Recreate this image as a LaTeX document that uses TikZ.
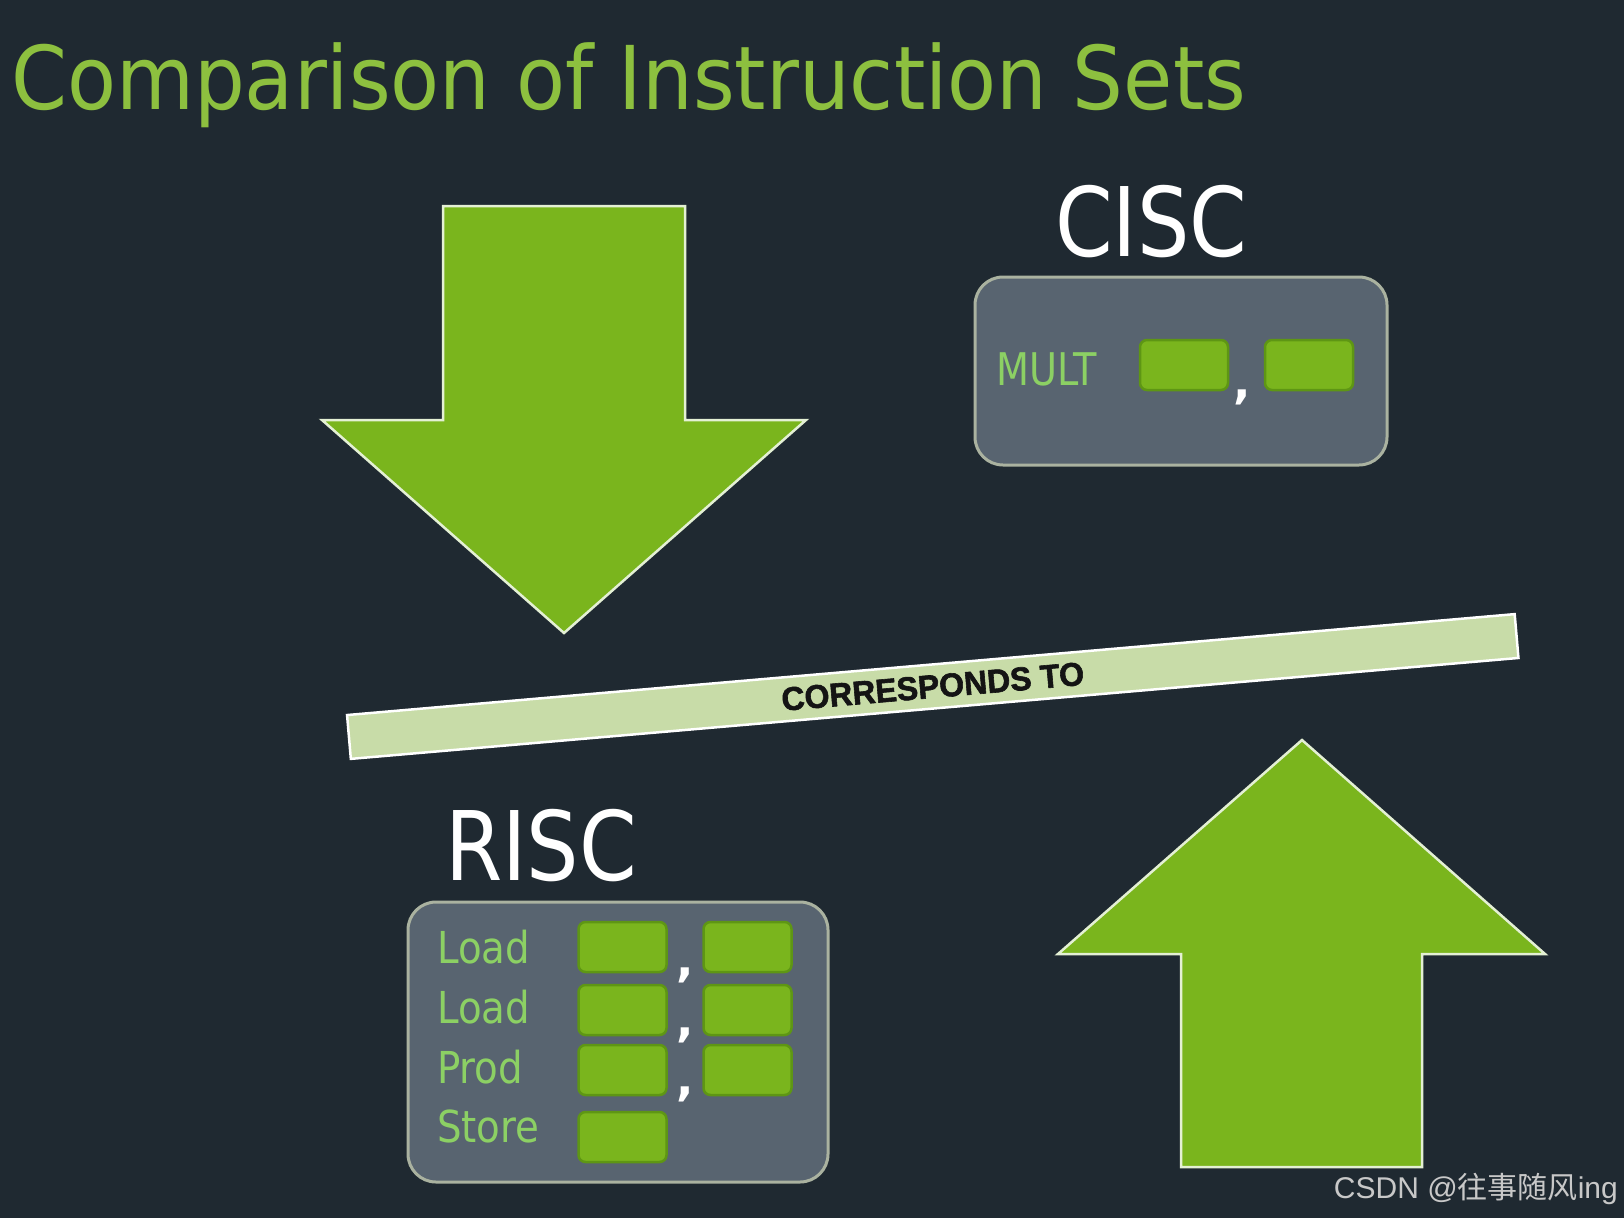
\documentclass[tikz,border=0pt]{standalone}
\usepackage{fontspec}
\setmainfont{DejaVu Sans}
\newfontfamily\barfont[FakeBold=1.8]{Liberation Sans Bold}
\newfontfamily\wmfont{Liberation Sans}
\newfontfamily\cjk{Noto Sans CJK SC}
\definecolor{bg}{HTML}{1F2931}
\definecolor{titlegreen}{HTML}{8DC03F}
\definecolor{arrowgreen}{HTML}{7AB51D}
\definecolor{arrowedge}{HTML}{E4F0D4}
\definecolor{boxfill}{HTML}{586470}
\definecolor{boxedge}{HTML}{AAB2A0}
\definecolor{slotfill}{HTML}{7AB51D}
\definecolor{slotedge}{HTML}{5E9614}
\definecolor{lblgreen}{HTML}{8CD064}
\definecolor{barfill}{HTML}{C8DCA8}
\definecolor{wmgray}{HTML}{C8C8C8}
\tikzset{
  bigarrow/.style={fill=arrowgreen, draw=arrowedge, line width=2.5pt, line join=miter},
  bigbox/.style={rectangle, rounded corners=28pt, fill=boxfill, draw=boxedge, line width=3pt, inner sep=0pt},
  slot/.style={rectangle, rounded corners=7pt, fill=slotfill, draw=slotedge, line width=2.5pt, minimum width=88pt, minimum height=50pt, inner sep=0pt},
  lbl/.style={anchor=base west, inner sep=0pt, text=lblgreen},
  headtxt/.style={anchor=base west, inner sep=0pt, text=white},
  commatxt/.style={anchor=base, inner sep=0pt, text=white, font=\bfseries},
  barbox/.style={rectangle, fill=barfill, draw=white, line width=2.5pt, inner sep=0pt, text={black!92}}
}
\begin{document}
\begin{tikzpicture}[x=1pt, y=-1pt]
\useasboundingbox (0,0) rectangle (1624,1218);
\fill[bg] (0,0) rectangle (1624,1218);

% title
\node[anchor=base west, inner sep=0pt, text=titlegreen] (title) at (11,109)
  {\fontsize{88}{88}\selectfont\scalebox{0.91}[1]{Comparison of Instruction Sets}};

% arrows
\draw[bigarrow] (443,206) -- (685,206) -- (685,420) -- (806,420) -- (564,633) -- (322,420) -- (443,420) -- cycle;
\draw[bigarrow] (1302,740) -- (1545,954) -- (1422,954) -- (1422,1167) -- (1181,1167) -- (1181,954) -- (1058,954) -- cycle;

% CISC
\node[headtxt] (cisc) at (1055,256) {\fontsize{96}{96}\selectfont\scalebox{0.86}[1]{CISC}};
\node[bigbox, minimum width=412pt, minimum height=188pt] (ciscbox) at (1181,371) {};
\node[lbl] (mult) at (996,385) {\fontsize{45}{45}\selectfont\scalebox{0.85}[1]{MULT}};
\node[slot] (m1) at (1184,365) {};
\node[slot] (m2) at (1309,365) {};
\node[commatxt] (mc) at (1242,398) {\fontsize{46}{46}\selectfont ,};

% bar
\node[barbox, rotate=4.94, minimum width=1172pt, minimum height=44pt] (bar) at (932.75,686.5)
  {\raisebox{-5pt}{\barfont\fontsize{33}{33}\selectfont\scalebox{0.97}[1]{CORRESPONDS TO}}};

% RISC
\node[headtxt] (risc) at (445,880) {\fontsize{96}{96}\selectfont\scalebox{0.86}[1]{RISC}};
\node[bigbox, minimum width=420pt, minimum height=280pt] (riscbox) at (618,1042) {};
\node[lbl] (l1) at (437,963) {\fontsize{44}{44}\selectfont\scalebox{0.88}[1]{Load}};
\node[lbl] (l2) at (437,1023) {\fontsize{44}{44}\selectfont\scalebox{0.88}[1]{Load}};
\node[lbl] (l3) at (437,1083) {\fontsize{44}{44}\selectfont\scalebox{0.88}[1]{Prod}};
\node[lbl] (l4) at (437,1142) {\fontsize{44}{44}\selectfont\scalebox{0.88}[1]{Store}};
\node[slot] (r11) at (622.5,947) {};
\node[slot] (r12) at (747.5,947) {};
\node[slot] (r21) at (622.5,1010) {};
\node[slot] (r22) at (747.5,1010) {};
\node[slot] (r31) at (622.5,1070) {};
\node[slot] (r32) at (747.5,1070) {};
\node[slot] (r41) at (622.5,1137) {};
\node[commatxt] (c1) at (685,976) {\fontsize{46}{46}\selectfont ,};
\node[commatxt] (c2) at (685,1036) {\fontsize{46}{46}\selectfont ,};
\node[commatxt] (c3) at (685,1095) {\fontsize{46}{46}\selectfont ,};

% watermark
\node[anchor=base east, inner sep=0pt, text=wmgray] (wm) at (1618,1198)
  {\wmfont\fontsize{30}{30}\selectfont CSDN @{\cjk 往事随风}ing};
\end{tikzpicture}
\end{document}
